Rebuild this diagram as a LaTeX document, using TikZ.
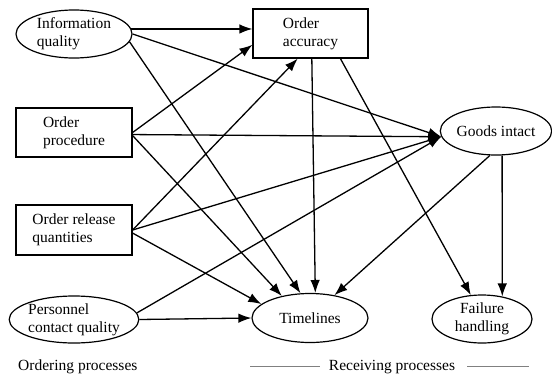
\documentclass[tikz,border=0pt]{standalone}
\usepackage{fontspec}
\setmainfont{Liberation Serif}
\usetikzlibrary{shapes.geometric,arrows.meta,calc}
\begin{document}
\begin{tikzpicture}[x=1pt,y=-1pt,
  font=\fontsize{15.5}{18}\selectfont,
  ell/.style={draw,line width=1.2pt,ellipse,inner sep=0pt,align=left},
  box/.style={draw,line width=1.2pt,rectangle,inner sep=0pt,align=left},
  conn/.style={line width=1.3pt,-{Latex[length=13pt,width=9.5pt]}},
  sepline/.style={draw=gray,line width=1pt}]
\useasboundingbox (0,0) rectangle (552,378);
\fill[white] (0,0) rectangle (552,378);
% nodes
\node[ell,minimum width=116pt,minimum height=48pt] (iq) at (74,34) {Information\\quality};
\node[box,minimum width=115pt,minimum height=49pt] (oa) at (310.5,33.5) {Order\\accuracy};
\node[box,minimum width=116pt,minimum height=49pt] (op) at (74,132.5) {Order\\procedure};
\node[ell,minimum width=110pt,minimum height=48pt] (gi) at (496,131) {Goods intact};
\node[box,minimum width=116pt,minimum height=50pt] (orq) at (74,230) {Order release\\quantities};
\node[ell,minimum width=116pt,minimum height=47pt] (pcq) at (74,319.5) {Personnel\\contact quality};
\node[ell,minimum width=116pt,minimum height=49pt] (tl) at (310,318) {Timelines};
\node[ell,minimum width=100pt,minimum height=48pt,align=center] (fh) at (482,319) {Failure\\handling};
% connectors
\draw[conn] (iq.5) -- (iq.5 -| oa.west);
\draw[conn] (iq.0) -- (gi.186);
\draw[conn] (iq.-8) -- (tl.111);
\draw[conn] (op.east) -- (oa.191);
\draw[conn] (op.-2) -- (gi.186);
\draw[conn] (op.-3) -- (tl.142);
\draw[conn] (orq.east) -- (oa.243);
\draw[conn] (orq.east) -- (gi.186);
\draw[conn] (orq.-3) -- (tl.164);
\draw[conn] (pcq.6) -- (gi.186);
\draw[conn] (pcq.east) -- (tl.west);
\draw[conn] (oa.273.5) -- (tl.78);
\draw[conn] (oa.-40) -- (fh.115);
\draw[conn] (gi.256) -- (tl.43);
\draw[conn] (gi.284) -- (fh.48);
% bottom labels
\node[anchor=west,inner sep=0pt] (ordp) at (18,367) {Ordering processes};
\node[inner sep=0pt] (recp) at (392,367) {Receiving processes};
\coordinate (la) at (250,366);
\coordinate (lb) at (320,366);
\coordinate (lc) at (467,366);
\coordinate (ld) at (529,366);
\draw[sepline] (la) -- (lb);
\draw[sepline] (lc) -- (ld);
\end{tikzpicture}
\end{document}
